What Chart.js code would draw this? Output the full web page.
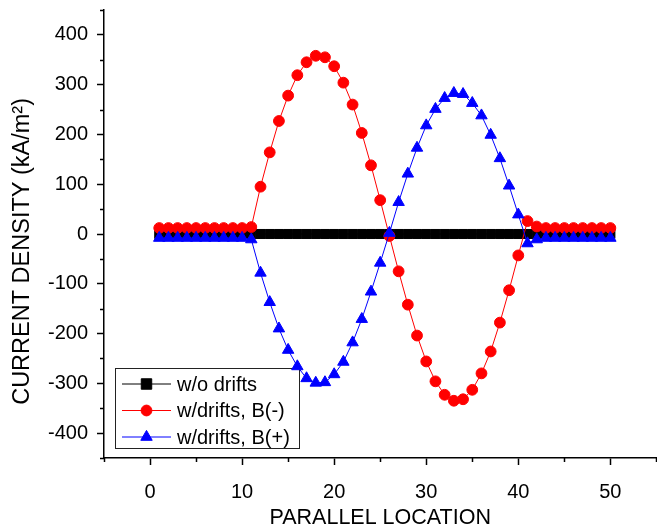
<!DOCTYPE html>
<html>
<head>
<meta charset="utf-8">
<script src="https://cdn.jsdelivr.net/npm/chart.js@4/dist/chart.umd.min.js"></script>
<style>
  html, body { margin: 0; padding: 0; overflow: hidden; background: #fff; }
  #wrap { position: relative; width: 664px; height: 531px; }
</style>
</head>
<body>
<div id="wrap"><canvas id="c" width="664" height="531"></canvas></div>
<script>
// Parallel location index along the field line
const locations = [1, 2, 3, 4, 5, 6, 7, 8, 9, 10,
                   11, 12, 13, 14, 15, 16, 17, 18, 19, 20,
                   21, 22, 23, 24, 25, 26, 27, 28, 29, 30,
                   31, 32, 33, 34, 35, 36, 37, 38, 39, 40,
                   41, 42, 43, 44, 45, 46, 47, 48, 49, 50];

// Current density (kA/m^2) without drifts
const noDrifts = [0, 0, 0, 0, 0, 0, 0, 0, 0, 0,
                  0, 0, 0, 0, 0, 0, 0, 0, 0, 0,
                  0, 0, 0, 0, 0, 0, 0, 0, 0, 0,
                  0, 0, 0, 0, 0, 0, 0, 0, 0, 0,
                  0, 0, 0, 0, 0, 0, 0, 0, 0, 0];

// Current density with drifts, B(-)
const driftsBminus = [12, 12, 12, 12, 12, 12, 12, 12, 12, 12,
                      14, 95, 164, 227, 278, 319, 345, 358, 355, 337,
                      304, 260, 203, 138, 68, -4, -75, -142, -204, -256,
                      -296, -323, -335, -332, -313, -280, -236, -178, -113, -43,
                      26, 15, 12, 12, 12, 12, 12, 12, 12, 12];

// Current density with drifts, B(+)
const driftsBplus = [-8, -8, -8, -8, -8, -8, -8, -8, -8, -8,
                     -11, -78, -137, -190, -233, -266, -290, -299, -298, -282,
                     -257, -218, -171, -116, -58, 2, 64, 121, 173, 218,
                     251, 273, 283, 281, 263, 238, 199, 152, 97, 39,
                     -19, -11, -8, -8, -8, -8, -8, -8, -8, -8];

// Axis ticks
const xMajorTicks = [0, 10, 20, 30, 40, 50];
const xMinorTicks = [-5, 5, 15, 25, 35, 45, 55];
const yMajorTicks = [-400, -300, -200, -100, 0, 100, 200, 300, 400];
const yMinorTicks = [-450, -350, -250, -150, -50, 50, 150, 250, 350, 450];

const seriesNames = ['w/o drifts', 'w/drifts, B(-)', 'w/drifts, B(+)'];
const yTitle = 'CURRENT DENSITY (kA/m²)';

const FONT = "'Liberation Sans', Arial, Helvetica, sans-serif";

function toPoints(values) {
  return locations.map((x, i) => ({ x: x, y: values[i] }));
}

// Short outward minor ticks on both axes, plus the vertical axis title
const axisExtrasPlugin = {
  id: 'axisExtras',
  afterDraw(chart) {
    const { ctx, chartArea } = chart;
    const xs = chart.scales.x, ys = chart.scales.y;
    ctx.save();
    ctx.strokeStyle = '#000';
    ctx.lineWidth = 1.5;
    ctx.beginPath();
    xMinorTicks.forEach(v => {
      const px = Math.round(xs.getPixelForValue(v)) + 0.5;
      ctx.moveTo(px, chartArea.bottom);
      ctx.lineTo(px, chartArea.bottom + 4);
    });
    yMinorTicks.forEach(v => {
      const py = Math.round(ys.getPixelForValue(v)) + 0.5;
      ctx.moveTo(chartArea.left, py);
      ctx.lineTo(chartArea.left - 4, py);
    });
    ctx.stroke();

    // vertical title, centred slightly below the middle of the axis
    ctx.translate(23, ys.getPixelForValue(-35));
    ctx.rotate(-Math.PI / 2);
    ctx.fillStyle = '#000';
    ctx.font = '23.5px ' + FONT;
    ctx.textAlign = 'center';
    ctx.textBaseline = 'middle';
    ctx.fillText(yTitle, 0, 0);
    ctx.restore();
  }
};

// Boxed legend in the lower-left of the plot
const boxLegendPlugin = {
  id: 'boxLegend',
  beforeDatasetsDraw(chart) {
    const { ctx } = chart;
    const box = { x: 115.5, y: 368.5, w: 184, h: 80 };
    const rows = [384, 410.5, 437];
    ctx.save();
    ctx.fillStyle = '#fff';
    ctx.fillRect(box.x, box.y, box.w, box.h);
    ctx.strokeStyle = '#222';
    ctx.lineWidth = 1;
    ctx.strokeRect(box.x, box.y, box.w, box.h);
    chart.data.datasets.forEach((ds, i) => {
      const y = rows[i];
      ctx.strokeStyle = ds.borderColor;
      ctx.lineWidth = 1;
      ctx.beginPath();
      ctx.moveTo(122, y);
      ctx.lineTo(171, y);
      ctx.stroke();
      ctx.fillStyle = ds.pointBackgroundColor;
      ctx.strokeStyle = ds.pointBorderColor;
      Chart.helpers.drawPoint(ctx, {
        pointStyle: ds.pointStyle,
        radius: ds.pointRadius + (ds.pointStyle === 'rect' ? 1 : 0),
        borderWidth: ds.pointBorderWidth,
        rotation: 0
      }, 146.5, y);
      ctx.fillStyle = '#000';
      ctx.font = '20px ' + FONT;
      ctx.textBaseline = 'middle';
      ctx.textAlign = 'left';
      ctx.fillText(seriesNames[i], 177, y + 1);
    });
    ctx.restore();
  }
};

const axisCommon = {
  type: 'linear',
  grid: {
    display: true,
    drawOnChartArea: false,
    drawTicks: true,
    tickLength: 7,
    tickWidth: 1.5,
    tickColor: '#000'
  },
  border: { display: true, color: '#000', width: 1.5 }
};

new Chart(document.getElementById('c'), {
  type: 'line',
  data: {
    datasets: [
      {
        label: seriesNames[0],
        data: toPoints(noDrifts),
        borderColor: '#000',
        backgroundColor: '#000',
        pointBackgroundColor: '#000',
        pointBorderColor: '#000',
        pointStyle: 'rect',
        pointRadius: 6.4,
        pointBorderWidth: 1,
        borderWidth: 1,
        order: 3
      },
      {
        label: seriesNames[1],
        data: toPoints(driftsBminus),
        borderColor: '#ff0000',
        backgroundColor: '#ff0000',
        pointBackgroundColor: '#ff0000',
        pointBorderColor: '#ff0000',
        pointStyle: 'circle',
        pointRadius: 5.4,
        pointBorderWidth: 1,
        borderWidth: 1,
        order: 2
      },
      {
        label: seriesNames[2],
        data: toPoints(driftsBplus),
        borderColor: '#0000ff',
        backgroundColor: '#0000ff',
        pointBackgroundColor: '#0000ff',
        pointBorderColor: '#0000ff',
        pointStyle: 'triangle',
        pointRadius: 6.6,
        pointBorderWidth: 1,
        borderWidth: 1,
        order: 1
      }
    ]
  },
  options: {
    responsive: false,
    animation: false,
    devicePixelRatio: 1,
    layout: { padding: { top: 10, right: 1, left: 0, bottom: 0 } },
    plugins: {
      legend: { display: false },
      tooltip: { enabled: false }
    },
    scales: {
      x: Object.assign({}, axisCommon, {
        min: -5,
        max: 55,
        afterBuildTicks: s => { s.ticks = xMajorTicks.map(v => ({ value: v })); },
        afterFit: s => {
          s.height = 73;
          s.paddingLeft = 0;
          s.paddingRight = 0;
        },
        ticks: {
          color: '#000',
          font: { family: FONT, size: 20 },
          padding: 15,
          maxRotation: 0,
          autoSkip: false
        },
        title: {
          display: true,
          text: 'PARALLEL LOCATION',
          color: '#000',
          font: { family: FONT, size: 21.5 },
          padding: { top: 0, bottom: 0 }
        }
      }),
      y: Object.assign({}, axisCommon, {
        min: -450,
        max: 450,
        afterBuildTicks: s => { s.ticks = yMajorTicks.map(v => ({ value: v })); },
        afterFit: s => {
          s.width = 104;
          s.paddingTop = 0;
          s.paddingBottom = 0;
        },
        ticks: {
          color: '#000',
          font: { family: FONT, size: 20 },
          padding: 9,
          autoSkip: false
        }
      })
    }
  },
  plugins: [boxLegendPlugin, axisExtrasPlugin]
});
</script>
</body>
</html>
